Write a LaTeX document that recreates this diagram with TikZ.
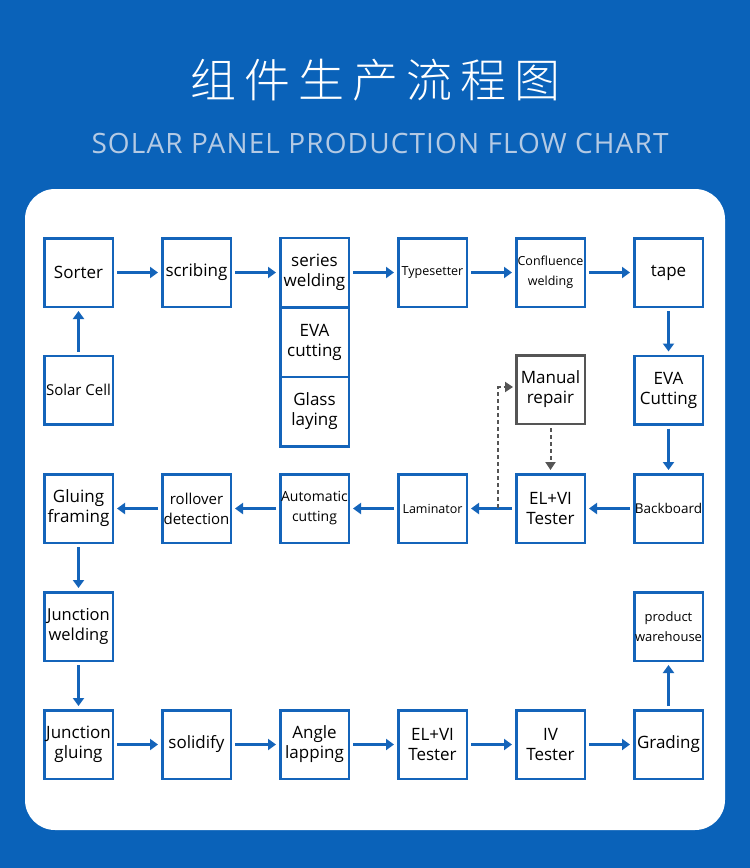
\documentclass[tikz,border=0pt]{standalone}
\usepackage{fontspec}
\setmainfont{Open Sans}
\newfontfamily\cjk{Noto Sans CJK SC}[UprightFont={* Light}]
\usetikzlibrary{arrows.meta}
\definecolor{bgblue}{HTML}{0A62B9}
\definecolor{lineblue}{HTML}{1464BA}
\definecolor{subcol}{HTML}{B4CAE4}
\definecolor{grayline}{HTML}{555555}
\newcommand\fsz[1]{\fontsize{#1pt}{20pt}\selectfont}
\tikzset{
  box/.style={draw=lineblue, line width=2.5pt, minimum width=68.5pt, minimum height=68.5pt,
    inner sep=0pt, align=center, text=black, font=\fsz{#1}},
  box/.default=17,
  sbox/.style={box=#1, minimum height=69.5pt},
  sbox/.default=17,
  gbox/.style={box=#1, draw=grayline},
  gbox/.default=17,
  arr/.style={draw=lineblue, line width=2.5pt, -{Triangle[length=8pt,width=11pt]},
    shorten <=3pt, shorten >=3pt},
  darr/.style={draw=grayline, line width=2pt, dash pattern=on 4pt off 3pt,
    -{Triangle[length=8pt,width=10pt]}},
}
\begin{document}
\begin{tikzpicture}[x=1pt,y=-1pt]
\useasboundingbox (0,0) rectangle (750,868);
\fill[bgblue] (0,0) rectangle (750,868);
\fill[white, rounded corners=30pt] (25,189) rectangle (725,830);

\node[text=white, inner sep=0pt] (title) at (375.5,80)
  {\cjk\fontsize{46pt}{50pt}\selectfont 组\hspace{8pt}件\hspace{8pt}生\hspace{8pt}产\hspace{8pt}流\hspace{8pt}程\hspace{8pt}图};
\node[text=subcol, inner sep=0pt] (subtitle) at (380,143)
  {\fontsize{28pt}{30pt}\selectfont\addfontfeature{LetterSpace=4}SOLAR PANEL PRODUCTION FLOW CHART};

% row 1
\node[box] (sorter) at (78.5,272.5) {Sorter};
\node[box] (scrib) at (196.5,272.5) {scribing};
\node[sbox] (series) at (314.5,272.5) {series\\welding};
\node[sbox] (eva1) at (314.5,342) {EVA\\cutting};
\node[sbox] (glass) at (314.5,411.5) {Glass\\laying};
\node[box=12.5] (types) at (432.5,272.5) {Typesetter};
\node[box=12.5] (confl) at (550.5,272.5) {Confluence\\welding};
\node[box] (tape) at (668.5,272.5) {tape};
% row 2
\node[box=15] (solar) at (78.5,390) {Solar Cell};
\node[gbox] (manual) at (550.5,389.5) {Manual\\repair};
\node[box] (eva2) at (668.5,390) {EVA\\Cutting};
% row 3
\node[box] (glue) at (78.5,508.5) {Gluing\\framing};
\node[box=15] (roll) at (196.5,508.5) {rollover\\detection};
\node[box=14] (auto) at (314.5,508.5) {Automatic\\cutting};
\node[box=12.5] (lam) at (432.5,508.5) {Laminator};
\node[box] (el1) at (550.5,508.5) {EL+VI\\Tester};
\node[box=13.5] (back) at (668.5,508.5) {Backboard};
% row 4
\node[box=16.5] (jw) at (78.5,626.5) {Junction\\welding};
\node[box=13] (pw) at (668.5,626.5) {product\\warehouse};
% row 5
\node[box] (jg) at (78.5,744.5) {Junction\\gluing};
\node[box] (solid) at (196.5,744.5) {solidify};
\node[box] (angle) at (314.5,744.5) {Angle\\lapping};
\node[box] (el2) at (432.5,744.5) {EL+VI\\Tester};
\node[box] (iv) at (550.5,744.5) {IV\\Tester};
\node[box] (grad) at (668.5,744.5) {Grading};

% connectors
\draw[arr] (solar) -- (sorter);
\draw[arr] (sorter) -- (scrib);
\draw[arr] (scrib) -- (series);
\draw[arr] (series) -- (types);
\draw[arr] (types) -- (confl);
\draw[arr] (confl) -- (tape);
\draw[arr] (tape) -- (eva2);
\draw[arr] (eva2) -- (back);
\draw[arr] (back) -- (el1);
\draw[arr] (el1) -- (lam);
\draw[arr] (lam) -- (auto);
\draw[arr] (auto) -- (roll);
\draw[arr] (roll) -- (glue);
\draw[arr] (glue) -- (jw);
\draw[arr] (jw) -- (jg);
\draw[arr] (jg) -- (solid);
\draw[arr] (solid) -- (angle);
\draw[arr] (angle) -- (el2);
\draw[arr] (el2) -- (iv);
\draw[arr] (iv) -- (grad);
\draw[arr] (grad) -- (pw);

\coordinate (dstart) at (498,507.5);
\coordinate (dturn) at (498,387);
\draw[darr, shorten >=2pt] (dstart) -- (dturn) -- (dturn -| manual.west);
\draw[darr, shorten <=3pt, shorten >=3pt] (manual) -- (el1);
\end{tikzpicture}
\end{document}
